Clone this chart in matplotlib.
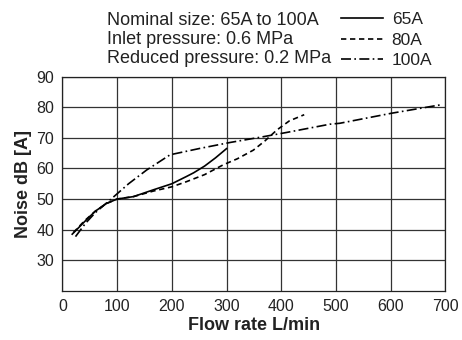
import matplotlib
matplotlib.use("Agg")
import matplotlib.pyplot as plt

plt.rcParams['font.family'] = ['Liberation Sans', 'DejaVu Sans']

# flow rate (L/min) and noise dB[A]
flow_65 = [18, 40, 60, 80, 100, 130, 166, 200, 227, 240, 260, 280, 300]
noise_65 = [38.5, 42.5, 46, 48.5, 50, 50.8, 53, 55, 57.4, 58.6, 60.8, 63.5, 66.5]

flow_80 = [20, 40, 60, 80, 100, 130, 166, 200, 227, 260, 294, 320, 349, 370, 392, 415, 442]
noise_80 = [39, 42.8, 46, 48.5, 50, 50.8, 52.6, 54, 55.7, 58, 61.2, 63.2, 66, 69, 72.6, 75.6, 77.6]

flow_100 = [24, 42, 60, 91, 121, 154, 197, 252, 306, 367, 410, 489, 507, 602, 690]
noise_100 = [37.7, 42, 45.5, 50.3, 55, 59.5, 64.5, 66.6, 68.5, 70.4, 71.8, 74.5, 74.8, 78.1, 80.8]

x_ticks = [0, 100, 200, 300, 400, 500, 600, 700]
y_ticks = [30, 40, 50, 60, 70, 80, 90]

fig = plt.figure(figsize=(4.62, 3.40), dpi=100)
ax = fig.add_axes([0.135, 0.145, 0.829, 0.629])

lw = 1.2
ax.plot(flow_65, noise_65, color='black', lw=lw, label='65A')
ax.plot(flow_80, noise_80, color='black', lw=lw, linestyle=(0, (3.2, 2.2)), label='80A')
ax.plot(flow_100, noise_100, color='black', lw=lw, linestyle=(0, (6, 2, 1, 2)), label='100A')

ax.set_xlim(0, 700)
ax.set_ylim(20, 90)
ax.set_xticks(x_ticks)
ax.set_yticks(y_ticks)
ax.tick_params(length=0, labelsize=11.5, colors='#222222', pad=6)
ax.grid(True, color='#333333', lw=0.9)
for s in ax.spines.values():
    s.set_color('#222222')
    s.set_linewidth(0.9)

ax.set_xlabel('Flow rate L/min', fontsize=13, fontweight='bold', color='#222222', labelpad=2)
ax.set_ylabel('Noise dB [A]', fontsize=13, fontweight='bold', color='#222222', labelpad=3)

fig.text(0.232, 0.965, 'Nominal size: 65A to 100A\nInlet pressure: 0.6 MPa\nReduced pressure: 0.2 MPa',
         fontsize=13, color='#222222', va='top', ha='left', linespacing=1.15)

ax.legend(loc='upper right', bbox_to_anchor=(0.962, 1.0), bbox_transform=fig.transFigure,
          frameon=False, fontsize=12.5, handlelength=2.4, handletextpad=0.5,
          labelspacing=0.3, borderpad=0.2, labelcolor='#222222')

fig.savefig('out.png', dpi=100)
